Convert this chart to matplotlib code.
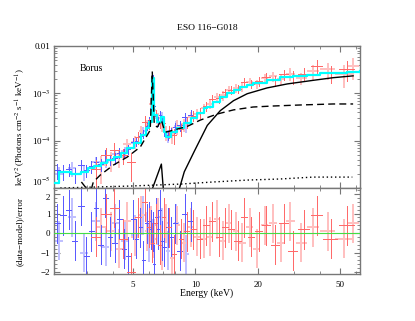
import numpy as np
import matplotlib
matplotlib.use("Agg")
import matplotlib.pyplot as plt
from matplotlib.ticker import FixedLocator, NullFormatter, FixedFormatter

plt.rcParams['font.family'] = ['Liberation Serif', 'DejaVu Serif']
plt.rcParams['mathtext.fontset'] = 'stix'

# total model (cyan step curve), keV vs keV^2 photons cm^-2 s^-1 keV^-1
model_e = [2.09, 2.21, 2.50, 2.82, 3.02, 3.26, 3.52, 3.76, 4.07, 4.40, 4.70, 5.08, 5.49,
           5.80, 6.00, 6.15, 6.30, 6.56, 6.80, 7.05, 7.25, 7.66, 8.19, 8.85, 9.57, 10.22,
           11.05, 11.43, 12.2, 13.2, 14.3, 15.3, 16.5, 17.8, 19.0, 22.2, 25.7, 29.7, 34.7,
           40.0, 46.3, 54.0, 62.4]
model_v = [1.27e-5, 2.18e-5, 1.95e-5, 2.2e-5, 2.64e-5, 2.92e-5, 3.38e-5, 3.9e-5, 4.52e-5,
           5.49e-5, 7.0e-5, 8.93e-5, 1.32e-4, 1.85e-4, 2.48e-4, 2.1e-3, 3.48e-4, 2.48e-4,
           3.16e-4, 1.52e-4, 1.19e-4, 1.52e-4, 1.85e-4, 2.36e-4, 3.01e-4, 3.84e-4, 4.9e-4,
           5.14e-4, 6.56e-4, 8.36e-4, 1.02e-3, 1.18e-3, 1.36e-3, 1.5e-3, 1.65e-3, 1.91e-3,
           2.21e-3, 2.32e-3, 2.44e-3, 2.69e-3, 2.69e-3, 2.82e-3, 2.97e-3]

# transmitted component (solid)
trans_e = [8.37, 8.85, 9.9, 11.43, 13.2, 15.3, 17.8, 22.2, 27.8, 37.0, 46.3, 57.8]
trans_v = [9.5e-6, 2.2e-5, 6.0e-5, 2.1e-4, 4.3e-4, 7.0e-4, 9.8e-4, 1.3e-3, 1.58e-3,
           1.88e-3, 2.14e-3, 2.34e-3]

# absorbed line (solid triangle)
line_e = [6.2, 6.86, 7.01]
line_v = [9.5e-6, 3.2e-5, 9.5e-6]

# reflection component (dashed)
refl_e = [3.15, 3.22, 3.48, 4.02, 4.70, 5.43, 5.87, 6.06, 6.2, 6.34, 6.56, 6.86, 7.09, 7.25,
          7.83, 9.15, 10.57, 12.78, 15.3, 19.0, 23.8, 32.0, 46.3, 57.8]
refl_v = [9.5e-6, 1.34e-5, 1.88e-5, 3.04e-5, 4.52e-5, 7.37e-5, 1.32e-4, 1.67e-4, 2.9e-3,
          2.14e-4, 1.94e-4, 2.72e-4, 1.67e-4, 1.52e-4, 1.67e-4, 2.0e-4, 2.72e-4, 3.66e-4,
          4.47e-4, 5.14e-4, 5.4e-4, 5.67e-4, 5.96e-4, 5.96e-4]
soft_e = [2.82, 3.0]
soft_v = [1.34e-5, 9.5e-6]

# scattered component (dotted)
scat_e = [2.23, 4.86, 8.47, 12.2, 17.8, 25.7, 37.0, 57.3]
scat_v = [1.0e-5, 1.1e-5, 1.21e-5, 1.34e-5, 1.47e-5, 1.55e-5, 1.7e-5, 1.7e-5]

# XMM pn (dark blue): energy, half width, value, relative error, residual
pn_e = [2.15, 2.30, 2.45, 2.62, 2.80, 2.98, 3.15, 3.32, 3.50, 3.68, 3.88, 4.08, 4.30, 4.52,
        4.75, 4.98, 5.20, 5.42, 5.62, 5.82, 6.00, 6.12, 6.22, 6.32, 6.45, 6.60, 6.75, 6.92,
        7.10, 7.35, 7.65, 8.0, 8.4, 8.9, 9.5]
pn_w = [0.07, 0.07, 0.07, 0.08, 0.09, 0.09, 0.09, 0.09, 0.09, 0.10, 0.10, 0.10, 0.11, 0.11,
        0.11, 0.11, 0.11, 0.10, 0.10, 0.09, 0.07, 0.05, 0.05, 0.05, 0.06, 0.07, 0.07, 0.08,
        0.09, 0.12, 0.14, 0.17, 0.2, 0.25, 0.3]
pn_v = [2.4e-5, 2.3e-5, 2.5e-5, 2.0e-5, 3.0e-5, 2.4e-5, 2.9e-5, 3.6e-5, 3.2e-5, 5.0e-5,
        4.0e-5, 4.3e-5, 5.6e-5, 5.5e-5, 6.6e-5, 9.5e-5, 9.8e-5, 1.25e-4, 1.4e-4, 2.0e-4,
        2.7e-4, 5.0e-4, 1.9e-3, 5.5e-4, 3.3e-4, 2.6e-4, 3.5e-4, 2.8e-4, 1.6e-4, 1.3e-4,
        1.55e-4, 1.9e-4, 2.1e-4, 3.1e-4, 3.5e-4]
pn_r = [0.35, 0.35, 0.3, 0.35, 0.3, 0.3, 0.3, 0.28, 0.28, 0.25, 0.25, 0.25, 0.22, 0.22,
        0.2, 0.2, 0.2, 0.18, 0.18, 0.16, 0.15, 0.2, 0.3, 0.2, 0.18, 0.2, 0.2, 0.2, 0.22,
        0.22, 0.22, 0.22, 0.25, 0.25, 0.25]
pn_res = [0.5, 0.9, 1.2, -0.4, 1.4, -1.2, 0.1, 1.3, -0.6, 1.8, -0.2, -0.5, 0.7, -0.8, -1.2,
          0.7, -0.3, 0.3, -1.4, 0.5, 0.6, 0.2, 0.1, -1.6, 0.8, 0.2, 1.2, -0.4, -0.7, 0.3,
          -0.2, 0.5, -0.9, 1.0, 0.6]

# XMM MOS (light blue)
mos_e = [2.2, 2.55, 2.9, 3.3, 3.7, 4.1, 4.6, 5.1, 5.6, 5.95, 6.25, 6.5, 6.9, 7.4, 8.1, 9.0]
mos_w = [0.1, 0.12, 0.13, 0.15, 0.15, 0.18, 0.2, 0.2, 0.15, 0.1, 0.08, 0.1, 0.12, 0.15, 0.2,
         0.3]
mos_v = [2.0e-5, 2.6e-5, 2.2e-5, 3.5e-5, 3.6e-5, 5.2e-5, 6.0e-5, 9.0e-5, 1.6e-4, 2.2e-4,
         1.2e-3, 3.0e-4, 3.3e-4, 1.3e-4, 2.0e-4, 2.2e-4]
mos_r = [0.4, 0.35, 0.35, 0.3, 0.28, 0.25, 0.25, 0.22, 0.2, 0.2, 0.3, 0.25, 0.25, 0.3, 0.3,
         0.35]
mos_res = [-0.4, 0.8, -1.0, 0.6, -0.7, 0.5, -0.4, -0.1, 0.9, -0.5, -0.3, 0.4, 0.3, -0.9, 0.5,
           -1.1]

# NuSTAR FPMA (red)
fpma_e = [3.3, 3.7, 4.07, 4.5, 4.9, 5.3, 5.7, 5.95, 6.2, 6.45, 6.75, 7.05, 7.45, 7.9, 8.5,
          9.1, 9.8, 10.5, 11.3, 12.1, 13.0, 13.9, 14.9, 16.0, 17.2, 18.6, 20.2, 22.0, 24.2,
          26.7, 29.6, 33.5, 38.5, 45.0, 54.0]
fpma_w = [0.15, 0.2, 0.2, 0.2, 0.2, 0.18, 0.15, 0.1, 0.1, 0.1, 0.12, 0.12, 0.15, 0.18, 0.2,
          0.25, 0.3, 0.3, 0.35, 0.4, 0.4, 0.45, 0.5, 0.55, 0.6, 0.7, 0.8, 0.9, 1.1, 1.3, 1.5,
          2.0, 2.5, 3.5, 4.5]
fpma_v = [2.5e-5, 5.0e-5, 6.5e-5, 5.0e-5, 3.5e-5, 1.2e-4, 2.5e-4, 2.3e-4, 9.0e-4, 3.5e-4,
          2.5e-4, 2.4e-4, 1.6e-4, 1.3e-4, 1.75e-4, 2.5e-4, 3.4e-4, 4.0e-4, 5.5e-4, 7.5e-4,
          8.0e-4, 1.05e-3, 1.2e-3, 1.25e-3, 1.75e-3, 1.6e-3, 1.85e-3, 2.2e-3, 1.9e-3,
          2.5e-3, 2.3e-3, 2.6e-3, 3.8e-3, 2.7e-3, 3.3e-3]
fpma_r = [0.6, 0.4, 0.35, 0.35, 0.6, 0.3, 0.3, 0.25, 0.3, 0.25, 0.25, 0.3, 0.3, 0.35, 0.3,
          0.25, 0.25, 0.25, 0.22, 0.22, 0.22, 0.2, 0.2, 0.2, 0.2, 0.2, 0.22, 0.22, 0.25, 0.25,
          0.3, 0.3, 0.35, 0.4, 0.45]
fpma_res = [-0.2, 1.0, 1.3, -0.3, -2.0, 0.8, 1.6, 0.3, -0.5, 0.5, -0.6, 0.8, 0.3, -1.1, -0.3,
            0.1, 0.2, -0.3, 0.4, 0.6, -0.2, 0.3, 0.2, -0.4, 0.8, -0.2, 0.1, 0.4, -0.6, 0.5,
            -0.9, 0.2, 0.9, -0.3, 0.4]

# NuSTAR FPMB (light red)
fpmb_e = [3.5, 3.9, 4.3, 4.7, 5.1, 5.5, 5.85, 6.1, 6.35, 6.6, 6.9, 7.25, 7.7, 8.2, 8.8, 9.5,
          10.2, 11.0, 11.8, 12.7, 13.6, 14.6, 15.7, 16.9, 18.3, 19.8, 21.6, 23.7, 26.0, 28.8,
          32.5, 37.0, 43.5, 52.0, 58.0]
fpmb_w = [0.2, 0.2, 0.2, 0.2, 0.18, 0.15, 0.1, 0.1, 0.1, 0.12, 0.12, 0.15, 0.18, 0.2, 0.22,
          0.25, 0.3, 0.35, 0.4, 0.4, 0.45, 0.5, 0.55, 0.6, 0.7, 0.8, 0.9, 1.0, 1.2, 1.5, 2.0,
          2.5, 3.5, 5.0, 4.0]
fpmb_v = [3.0e-5, 4.0e-5, 4.5e-5, 8.5e-5, 9.5e-5, 1.6e-4, 2.2e-4, 6.0e-4, 4.5e-4, 3.0e-4,
          2.2e-4, 1.5e-4, 1.4e-4, 2.0e-4, 2.2e-4, 3.2e-4, 3.7e-4, 4.8e-4, 6.0e-4, 8.5e-4,
          9.0e-4, 1.2e-3, 1.3e-3, 1.35e-3, 1.75e-3, 1.6e-3, 2.1e-3, 2.3e-3, 2.0e-3, 2.6e-3,
          2.1e-3, 2.9e-3, 3.2e-3, 2.6e-3, 3.8e-3]
fpmb_r = [0.6, 0.45, 0.4, 0.3, 0.3, 0.3, 0.25, 0.3, 0.25, 0.3, 0.3, 0.35, 0.4, 0.35, 0.3,
          0.25, 0.25, 0.22, 0.22, 0.22, 0.22, 0.2, 0.2, 0.2, 0.2, 0.22, 0.22, 0.25, 0.25, 0.3,
          0.3, 0.35, 0.4, 0.5, 0.5]
fpmb_res = [0.3, 0.1, -0.8, 0.6, -0.2, 0.9, 0.1, 0.4, -0.3, 0.8, -0.9, 0.5, -1.3, 0.4, -0.5,
            0.3, -0.2, -0.3, -0.2, 0.7, -0.4, 0.5, 0.1, -0.5, 0.3, -0.8, 0.4, 0.5, -0.5, 0.6,
            -0.5, 0.3, 0.1, -0.3, 0.5]

# pale sets are drawn wider, the dark ones one pixel wide
datasets = [
    (mos_e, mos_w, mos_v, mos_r, mos_res, '#c0c0ff', 1.2),
    (fpmb_e, fpmb_w, fpmb_v, fpmb_r, fpmb_res, '#ffc0c0', 1.2),
    (pn_e, pn_w, pn_v, pn_r, pn_res, '#5a5aff', 0.4),
    (fpma_e, fpma_w, fpma_v, fpma_r, fpma_res, '#ff6a6a', 0.4),
]

frame_col = '#777777'

fig = plt.figure(figsize=(4.15, 3.21), dpi=100)
ax1 = fig.add_axes([54 / 415, 1 - 188 / 321, 306 / 415, 142 / 321])
ax2 = fig.add_axes([54 / 415, 1 - 274 / 321, 306 / 415, 86 / 321], sharex=ax1)

for e, w, v, r, res, col, lw in datasets:
    e = np.array(e)
    v = np.array(v)
    top = ax1.errorbar(e, v, xerr=w, yerr=v * np.array(r), fmt='none', ecolor=col,
                       elinewidth=lw, capsize=0, zorder=2)
    bot = ax2.errorbar(e, res, xerr=w, yerr=np.ones(len(e)), fmt='none', ecolor=col,
                       elinewidth=lw, capsize=0, zorder=2)
    for lc in list(top.lines[2]) + list(bot.lines[2]):
        lc.set_antialiased(False)

ax1.step(model_e, model_v, where='post', color='#00ffff', lw=1.6, zorder=3)
ax1.plot(trans_e, trans_v, color='black', lw=1.0, zorder=4)
ax1.plot(line_e, line_v, color='black', lw=1.0, zorder=4)
ax1.plot(refl_e, refl_v, color='black', lw=1.0, ls=(0, (5, 3)), zorder=4)
ax1.plot(soft_e, soft_v, color='black', lw=1.0, ls=(0, (5, 3)), zorder=4)
ax1.plot(scat_e, scat_v, color='black', lw=1.0, ls=(0, (1, 2)), zorder=4)

ax2.axhline(0, color='#44dd44', lw=0.8, zorder=3)

ax1.set_xscale('log')
ax1.set_yscale('log')
ax1.set_xlim(2.08, 62.4)
ax1.set_ylim(1e-5, 1e-2)
ax2.set_ylim(-2.1, 2.31)

ax1.yaxis.set_major_locator(FixedLocator([1e-5, 1e-4, 1e-3, 1e-2]))
ax1.yaxis.set_major_formatter(FixedFormatter(['10$^{-5}$', '10$^{-4}$', '10$^{-3}$', '0.01']))
ax1.yaxis.set_minor_locator(FixedLocator([m * 10.0 ** k for k in (-5, -4, -3) for m in range(2, 10)]))
ax1.yaxis.set_minor_formatter(NullFormatter())

ax2.xaxis.set_major_locator(FixedLocator([5, 10, 20, 50]))
ax2.xaxis.set_major_formatter(FixedFormatter(['5', '10', '20', '50']))
ax2.xaxis.set_minor_locator(FixedLocator([3, 4, 6, 7, 8, 9, 30, 40, 60]))
ax2.xaxis.set_minor_formatter(NullFormatter())
ax2.yaxis.set_major_locator(FixedLocator([-2, -1, 0, 1, 2]))
ax2.yaxis.set_minor_locator(FixedLocator(np.arange(-2.0, 2.3, 0.2)))
plt.setp(ax1.get_xticklabels(), visible=False)

for ax in (ax1, ax2):
    for s in ax.spines.values():
        s.set_color(frame_col)
        s.set_linewidth(1.0)
    ax.tick_params(which='both', direction='in', top=True, right=True, color=frame_col,
                   labelsize=6.5, pad=2.5)
    ax.tick_params(which='major', length=4, width=0.8)
    ax.tick_params(which='minor', length=2, width=0.6)
ax2.tick_params(axis='x', pad=5)

# keep the lowest top-panel label clear of the "2" below it
fig.canvas.draw()
ax1.get_yticklabels()[0].set_verticalalignment('bottom')
ax2.get_yticklabels()[-1].set_verticalalignment('top')

ax1.text(0.085, 0.845, 'Borus', transform=ax1.transAxes, fontsize=7, va='center')
fig.text(207 / 415, 1 - 28 / 321, 'ESO 116\u2212G018', ha='center', va='center', fontsize=6.8)
fig.text(20 / 415, 1 - 127 / 321, 'keV$^{2}$ (Photons cm$^{-2}$ s$^{-1}$ keV$^{-1}$)',
         rotation=90, ha='center', va='center', fontsize=6.5)
fig.text(20 / 415, 1 - 231 / 321, '(data\u2212model)/error', rotation=90, ha='center',
         va='center', fontsize=6.5)
fig.text(207 / 415, 1 - 293 / 321, 'Energy (keV)', ha='center', va='center', fontsize=7)

fig.savefig('out.png', dpi=100)
